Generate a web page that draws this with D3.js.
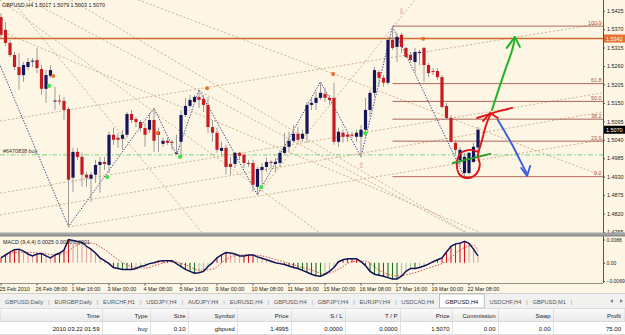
<!DOCTYPE html>
<html>
<head>
<meta charset="utf-8">
<script src="https://d3js.org/d3.v7.min.js"></script>
<style>
body{margin:0;background:#fff;overflow:hidden}
text{font-family:"Liberation Sans",Arial,sans-serif}
</style>
</head>
<body>
<div id="chart"></div>
<script>
var W = 625, H = 335

// ---- data ----
var symbol = 'GBPUSD,H4'
var lastQuote = [1.5017, 1.5079, 1.5003, 1.5070]

// open, high, low, close per H4 bar (bar 0 = 25 Feb 2010 00:00)
var ohlc = [
[1.5406,1.5418,1.5344,1.5353],[1.5368,1.5391,1.5320,1.5329],[1.5329,1.5338,1.5287,1.5293],[1.5293,1.5302,1.5248,1.5257],
[1.5257,1.5299,1.5189,1.5233],[1.5233,1.5272,1.5213,1.5263],[1.5257,1.5284,1.5248,1.5272],[1.5275,1.5284,1.5257,1.5276],
[1.5278,1.5314,1.5239,1.5254],[1.5251,1.5263,1.5174,1.5192],[1.5192,1.5248,1.5150,1.5233],[1.5231,1.5263,1.5225,1.5248],
[1.5156,1.5198,1.5129,1.5157],[1.5157,1.5174,1.5144,1.5156],[1.5156,1.5168,1.5099,1.5129],[1.5132,1.5138,1.4781,1.4921],
[1.4927,1.5016,1.4885,1.5004],[1.5004,1.5016,1.4980,1.4989],[1.4989,1.5001,1.4900,1.4936],[1.4936,1.4944,1.4900,1.4927],
[1.4924,1.4944,1.4855,1.4936],[1.4936,1.4980,1.4912,1.4965],[1.4965,1.4989,1.4882,1.4974],[1.4974,1.4989,1.4950,1.4968],
[1.4965,1.5064,1.4941,1.5055],[1.5055,1.5076,1.5025,1.5040],[1.5046,1.5061,1.5016,1.5040],[1.5043,1.5070,1.5010,1.5055],
[1.5055,1.5123,1.5046,1.5117],[1.5117,1.5129,1.5090,1.5099],[1.5102,1.5108,1.5078,1.5093],[1.5093,1.5099,1.5064,1.5075],
[1.5075,1.5090,1.5019,1.5055],[1.5070,1.5120,1.5061,1.5099],[1.5099,1.5135,1.5004,1.5037],[1.5064,1.5076,1.5004,1.5055],
[1.5028,1.5046,1.5019,1.5037],[1.5037,1.5046,1.5025,1.5031],[1.5034,1.5040,1.5010,1.5033],[1.4998,1.5055,1.4995,1.5001],
[1.5034,1.5129,1.4989,1.5114],[1.5114,1.5165,1.5108,1.5141],[1.5141,1.5174,1.5135,1.5159],[1.5153,1.5174,1.5150,1.5168],
[1.5168,1.5189,1.5135,1.5159],[1.5162,1.5174,1.5123,1.5144],[1.5144,1.5168,1.5061,1.5078],[1.5078,1.5099,1.5034,1.5061],
[1.5061,1.5076,1.5001,1.5010],[1.5007,1.5034,1.4995,1.5016],[1.5016,1.5025,1.4936,1.4959],[1.4968,1.4989,1.4936,1.4959],
[1.4968,1.5004,1.4956,1.5001],[1.5001,1.5004,1.4980,1.4992],[1.4995,1.5001,1.4956,1.4971],[1.4971,1.4980,1.4959,1.4970],
[1.4971,1.4980,1.4885,1.4906],[1.4900,1.4959,1.4876,1.4953],[1.4950,1.4971,1.4906,1.4959],[1.4959,1.4986,1.4944,1.4974],
[1.4974,1.4980,1.4956,1.4971],[1.4968,1.4986,1.4944,1.4974],[1.4971,1.5010,1.4959,1.5001],[1.5001,1.5061,1.4995,1.5019],
[1.5019,1.5064,1.5004,1.5037],[1.5037,1.5084,1.5031,1.5058],[1.5058,1.5078,1.5034,1.5040],[1.5043,1.5070,1.5034,1.5058],
[1.5058,1.5153,1.5031,1.5144],[1.5144,1.5165,1.5129,1.5150],[1.5150,1.5183,1.5129,1.5165],[1.5165,1.5213,1.5159,1.5180],
[1.5177,1.5195,1.5153,1.5165],[1.5165,1.5174,1.5144,1.5159],[1.5165,1.5210,1.5025,1.5034],[1.5034,1.5076,1.5019,1.5064],
[1.5061,1.5070,1.5031,1.5049],[1.5055,1.5064,1.5034,1.5049],[1.5055,1.5064,1.5046,1.5054],[1.5049,1.5070,1.5034,1.5061],
[1.5049,1.5084,1.4989,1.5070],[1.5070,1.5165,1.5049,1.5129],[1.5129,1.5189,1.5108,1.5180],[1.5180,1.5257,1.5168,1.5248],
[1.5242,1.5248,1.5198,1.5225],[1.5225,1.5233,1.5198,1.5210],[1.5210,1.5347,1.5204,1.5338],[1.5338,1.5377,1.5308,1.5314],
[1.5317,1.5359,1.5272,1.5347],[1.5353,1.5359,1.5299,1.5317],[1.5314,1.5317,1.5284,1.5287],[1.5293,1.5302,1.5272,1.5278],
[1.5272,1.5314,1.5239,1.5302],[1.5299,1.5308,1.5263,1.5302],[1.5314,1.5317,1.5213,1.5263],[1.5263,1.5269,1.5227,1.5239],
[1.5245,1.5254,1.5233,1.5242],[1.5245,1.5254,1.5219,1.5227],[1.5227,1.5233,1.5135,1.5138],[1.5141,1.5150,1.5099,1.5105],
[1.5105,1.5114,1.5031,1.5034],[1.5031,1.5040,1.4995,1.5010],[1.4980,1.5019,1.4965,1.5010],[1.4941,1.5001,1.4929,1.4989],
[1.4941,1.5004,1.4936,1.5001],[1.4974,1.5031,1.4971,1.5019],[1.5017,1.5079,1.5003,1.5070]
]

var priceTicks = [1.5425,1.5370,1.5315,1.5260,1.5205,1.5150,1.5095,1.5040,1.4985,1.4930,1.4875,1.4820,1.4765]
var timeLabelBars = [0,8,16,24,32,40,48,56,64,72,80,88,96,104]
var timeLabels = ['25 Feb 2010','26 Feb 08:00','1 Mar 16:00','3 Mar 00:00','4 Mar 08:00','5 Mar 16:00','9 Mar 00:00',
  '10 Mar 08:00','11 Mar 16:00','15 Mar 00:00','16 Mar 08:00','17 Mar 16:00','19 Mar 00:00','22 Mar 08:00']

var macdMain = [
0.00186,0.00296,0.00405,0.00496,0.00515,0.00442,0.00332,0.00259,0.00332,0.00350,
0.00259,0.00186,0.00296,0.00369,0.00478,0.00880,0.00843,0.00807,0.00770,0.00624,
0.00515,0.00369,0.00186,0.00077,-0.00033,-0.00179,-0.00215,-0.00252,-0.00252,-0.00252,
-0.00215,-0.00142,-0.00106,-0.00033,0.00004,0.00058,0.00077,0.00077,0.00077,-0.00033,
-0.00142,-0.00252,-0.00325,-0.00398,-0.00380,-0.00325,-0.00142,0.00004,0.00186,0.00296,
0.00387,0.00369,0.00332,0.00259,0.00259,0.00296,0.00296,0.00223,0.00168,0.00113,
0.00058,0.00004,-0.00033,-0.00069,-0.00124,-0.00179,-0.00215,-0.00288,-0.00361,-0.00434,
-0.00489,-0.00507,-0.00434,-0.00325,-0.00179,0.00040,0.00113,0.00150,0.00150,0.00150,
0.00040,-0.00106,-0.00325,-0.00434,-0.00471,-0.00507,-0.00562,-0.00617,-0.00617,-0.00507,
-0.00325,-0.00215,-0.00215,-0.00179,-0.00124,-0.00051,0.00040,0.00113,0.00186,0.00405,
0.00624,0.00715,0.00734,0.00807,0.00734,0.00515,0.00259]
var macdSignal = [[0,0.0020],[4,0.0040],[8,0.0038],[12,0.0030],[15,0.0045],[17,0.0068],[20,0.0075],[23,0.0050],
  [26,0.0012],[29,-0.0015],[32,-0.0020],[35,-0.0006],[38,0.0005],[41,-0.0008],[44,-0.0028],[47,-0.0024],[50,0.0012],
  [53,0.0030],[57,0.0028],[61,0.0012],[65,-0.0008],[69,-0.0028],[72,-0.0042],[75,-0.0025],[78,0.0004],[81,0.0006],
  [84,-0.0028],[88,-0.0050],[91,-0.0042],[95,-0.0020],[99,0.0006],[102,0.0048],[105,0.0066],[106,0.0045]]
var macdTicks = [0.0088, 0, -0.0069]

var fibStartBar = 87, fibLow = 1.4930, fibHigh = 1.5379
var fibLevels = [0, 23.6, 38.2, 50, 61.8, 100]
var hLinePrice = 1.5342
var buyPrice = 1.4995, buyLabel = '#6470838 buy'

// zigzag turning points [bar, price]
var zigzag = [[-4.5,1.5398],[15,1.4781],[34,1.5135],[39,1.4995],[44,1.5189],[57,1.4876],[71,1.5213],[80,1.4989],[87,1.5377],[103,1.4929]]
// trend lines [bar1, price1, bar2, price2]
var trendLines = [
  [13.1,1.5546,133.8,1.4932],[2.7,1.5451,45.1,1.4756],[-0.2,1.5457,70.9,1.4762],[-0.2,1.5502,104.2,1.4756],
  [15.6,1.5457,103.6,1.4762],[-0.2,1.5365,107.8,1.4756],
  [-0.2,1.5096,133.8,1.5388],[-0.2,1.4881,133.8,1.5180],[-0.2,1.4816,133.8,1.5123],[14.9,1.4780,133.8,1.5040],
  [56.9,1.4876,92,1.5457]]
var upFractals = [[11.6,1.5230],[34.7,1.5060],[45.8,1.5194],[73.8,1.5236],[93.8,1.5341]]
var downFractals = [[10.7,1.5201],[23.6,1.4929],[39.8,1.4989],[57.8,1.4899],[80.9,1.5060]]
var arrowDown = [89, 1.5416], arrowUp = [80, 1.4955]

// hand drawn strokes [bar, price]
var greenArrow = [[109.1,1.5129],[110.9,1.5203],[112.2,1.5254],[113.6,1.5308],[114.2,1.5344]]
var greenHead = [[112.4,1.5314],[114.2,1.5347],[115.3,1.5317]]
var redLoop = [[106,1.5004],[104.2,1.5010],[102,1.4998],[101.3,1.4965],[102,1.4935],[103.8,1.4926],[105.6,1.4938],
  [106.4,1.4965],[106,1.4992],[106.9,1.5039],[107.8,1.5084],[108.7,1.5114]]
var redHead = [[107.1,1.5096],[108.7,1.5120],[110.4,1.5105]]
var redBar = [[105.8,1.5105],[108.7,1.5117],[110.9,1.5126],[113.6,1.5135]]
var blueArrow = [[110.4,1.5099],[112,1.5063],[113.6,1.5025],[115.3,1.4980],[116.9,1.4938]]
var blueHead = [[115.6,1.4956],[116.9,1.4932],[117.6,1.4962]]
var greenTick = [[100.4,1.4971],[108.7,1.4998]]

var tabs = ['GBPUSD,Daily','EURGBP,Daily','EURCHF,H1','USDJPY,H4','AUDJPY,H4','EURUSD,H4','GBPUSD,H4',
  'GBPJPY,H4','EURJPY,H4','USDCAD,H4','GBPUSD,H4','USDCHF,H4','GBPUSD,M1']
var activeTab = 10
var colNames = ['Time','Type','Size','Symbol','Price','S / L','T / P','Price','Commission','Swap','Profit']
var rowValues = ['2010.03.22 01:59','buy','0.10','gbpusd','1.4995','0.0000','0.0000','1.5070','0.00','0.00','75.00']

// ---- layout ----
var plotRight = 603
var colSep = [102,150,188,237,291,345,400,452,498,553]
var colRight = [99.5,147.5,185.5,234.5,288.5,342.5,397.5,449.5,495.5,550.5,621]

var x = d3.scaleLinear().domain([0,106]).range([1,478])
var y = d3.scaleLinear().domain([1.4765,1.5425]).range([232,10.7])
var ym = d3.scaleLinear().domain([-0.0069,0.0088]).range([281,239.5])

var svg = d3.select('#chart').append('svg').attr('width',W).attr('height',H)
svg.append('rect').attr('width',W).attr('height',H).attr('fill','#fff')
svg.append('rect').attr('width',W).attr('height',293).attr('fill','#fdf6e5')

var defs = svg.append('defs')
defs.append('clipPath').attr('id','cm').append('rect').attr('width',plotRight).attr('height',232)
defs.append('clipPath').attr('id','cd').append('rect').attr('y',237).attr('width',plotRight).attr('height',46)
var hg = defs.append('linearGradient').attr('id','hdr').attr('x1',0).attr('x2',0).attr('y1',0).attr('y2',1)
hg.append('stop').attr('offset',0).attr('stop-color','#fbfbfb')
hg.append('stop').attr('offset',1).attr('stop-color','#e9e9e9')

var g = svg.append('g').attr('clip-path','url(#cm)')

// trend lines
g.selectAll('.tl').data(trendLines).join('line')
  .attr('x1',d=>x(d[0])).attr('y1',d=>y(d[1])).attr('x2',d=>x(d[2])).attr('y2',d=>y(d[3]))
  .attr('stroke','#c79c76').attr('stroke-width',0.8).attr('stroke-dasharray','2,2')

// fibonacci
fibLevels.forEach(function(lv){
  var p = fibLow + (fibHigh-fibLow)*lv/100
  g.append('line').attr('x1',x(fibStartBar)).attr('x2',plotRight).attr('y1',y(p)).attr('y2',y(p))
    .attr('stroke','#a5564c').attr('stroke-width',0.9)
  g.append('text').attr('x',plotRight-1.5).attr('y',y(p)-1.5).attr('text-anchor','end')
    .attr('font-size',5.4).attr('fill','#a5564c').text(d3.format('.1f')(lv))
})

// zigzag
g.append('path').datum(zigzag).attr('fill','none').attr('stroke','#26267a').attr('stroke-width',0.9)
  .attr('stroke-dasharray','1.3,1.5').attr('d',d3.line().x(d=>x(d[0])).y(d=>y(d[1])))

// horizontal line + buy order line
g.append('line').attr('x1',0).attr('x2',plotRight).attr('y1',y(hLinePrice)).attr('y2',y(hLinePrice))
  .attr('stroke','#d2692a').attr('stroke-width',1.4)
g.append('line').attr('x1',0).attr('x2',plotRight).attr('y1',y(buyPrice)).attr('y2',y(buyPrice))
  .attr('stroke','#7fd07f').attr('stroke-width',1).attr('stroke-dasharray','5,2,1.5,2')
g.append('text').attr('x',3).attr('y',y(buyPrice)-2).attr('font-size',5.4).attr('fill','#333').text(buyLabel)

// candles
var bars = g.selectAll('.bar').data(ohlc).join('g')
bars.append('line')
  .attr('x1',(d,i)=>x(i)).attr('x2',(d,i)=>x(i))
  .attr('y1',d=>y(d[1])).attr('y2',d=>y(d[2]))
  .attr('stroke','#9c9c9c').attr('stroke-width',1)
bars.append('rect')
  .attr('x',(d,i)=>x(i)-1.6).attr('width',3.2)
  .attr('y',d=>y(Math.max(d[0],d[3])))
  .attr('height',d=>Math.max(1,Math.abs(y(d[0])-y(d[3]))))
  .attr('fill',d=>d[3]>=d[0]?'#15155c':'#c81a1f')

// fractal dots
g.selectAll('.uf').data(upFractals).join('circle').attr('cx',d=>x(d[0])).attr('cy',d=>y(d[1])).attr('r',2)
  .attr('fill','#e8702a')
g.selectAll('.df').data(downFractals).join('circle').attr('cx',d=>x(d[0])).attr('cy',d=>y(d[1])).attr('r',2.1)
  .attr('fill','#3ee83e')
g.append('text').attr('x',x(arrowDown[0])).attr('y',y(arrowDown[1])).attr('text-anchor','middle')
  .attr('font-family','DejaVu Sans').attr('font-size',8).attr('fill','#e28a8a').text('\u21E9')
g.append('text').attr('x',x(arrowUp[0])).attr('y',y(arrowUp[1])).attr('text-anchor','middle')
  .attr('font-family','DejaVu Sans').attr('font-size',8).attr('fill','#e28a8a').text('\u21E7')

// hand drawn annotations (not clipped)
var ann = svg.append('g').attr('fill','none').attr('stroke-linecap','round').attr('stroke-linejoin','round')
var smooth = d3.line().x(d=>x(d[0])).y(d=>y(d[1])).curve(d3.curveCatmullRom)
var straight = d3.line().x(d=>x(d[0])).y(d=>y(d[1]))
ann.append('path').attr('d',smooth(greenArrow)).attr('stroke','#22b222').attr('stroke-width',2)
ann.append('path').attr('d',straight(greenHead)).attr('stroke','#22b222').attr('stroke-width',2)
ann.append('path').attr('d',smooth(redLoop)).attr('stroke','#e01414').attr('stroke-width',1.9)
ann.append('path').attr('d',straight(redHead)).attr('stroke','#e01414').attr('stroke-width',1.9)
ann.append('path').attr('d',smooth(redBar)).attr('stroke','#e01414').attr('stroke-width',1.9)
ann.append('path').attr('d',smooth(blueArrow)).attr('stroke','#3b5fe0').attr('stroke-width',1.9)
ann.append('path').attr('d',straight(blueHead)).attr('stroke','#3b5fe0').attr('stroke-width',1.9)
ann.append('path').attr('d',straight(greenTick)).attr('stroke','#2a9a2a').attr('stroke-width',2)

// header
svg.append('text').attr('x',2).attr('y',7).attr('font-size',5.4).attr('fill','#222')
  .text(symbol+'  '+lastQuote.map(d3.format('.4f')).join(' '))

// price axis
var ax = svg.append('g').attr('transform','translate('+plotRight+',0)')
  .call(d3.axisRight(y).tickValues(priceTicks).tickFormat(d3.format('.4f')).tickSize(2).tickPadding(2))
ax.select('.domain').attr('stroke','#555').attr('d','M0.5,0V283')
ax.selectAll('line').attr('stroke','#555')
ax.selectAll('text').attr('font-size',5.4).attr('fill','#222').attr('font-family','Liberation Sans')

function priceBox(p, bg, fg){
  svg.append('rect').attr('x',plotRight+1).attr('y',y(p)-4).attr('width',21).attr('height',8).attr('fill',bg)
  svg.append('text').attr('x',plotRight+3).attr('y',y(p)+2).attr('font-size',5.4).attr('fill',fg).text(d3.format('.4f')(p))
}
priceBox(hLinePrice,'#e2722c','#fff')
priceBox(lastQuote[3],'#000','#fff')

// separator between panes
svg.append('rect').attr('x',0).attr('y',232.5).attr('width',W).attr('height',3.5).attr('fill','#a3a3a3')
svg.append('line').attr('x1',0).attr('x2',W).attr('y1',236).attr('y2',236).attr('stroke','#6b6b6b').attr('stroke-width',0.8)

// MACD pane
var gm = svg.append('g').attr('clip-path','url(#cd)')
gm.selectAll('.hb').data(macdMain).join('line')
  .attr('x1',(d,i)=>x(i)).attr('x2',(d,i)=>x(i))
  .attr('y1',ym(0)).attr('y2',d=>ym(d))
  .attr('stroke-width',1.1)
  .attr('stroke',function(d,i){
    var prev = i>0 ? macdMain[i-1] : d
    if (d>=0) return d>=prev ? '#d8151b' : '#dba4a0'
    return d<=prev ? '#1e6e1e' : '#a9c8a2'
  })
gm.append('path').datum(macdSignal).attr('fill','none').attr('stroke','#d23a3a').attr('stroke-width',0.9)
  .attr('stroke-dasharray','1.5,1.5').attr('d',d3.line().x(d=>x(d[0])).y(d=>ym(d[1])).curve(d3.curveMonotoneX))
gm.append('path').datum(macdMain).attr('fill','none').attr('stroke','#121258').attr('stroke-width',1.5)
  .attr('d',d3.line().x((d,i)=>x(i)).y(d=>ym(d)))
svg.append('text').attr('x',3).attr('y',244).attr('font-size',5.4).attr('fill','#222')
  .text('MACD (9,4,4) 0.0025 0.0026 0.0001')

var axm = svg.append('g').attr('transform','translate('+plotRight+',0)')
  .call(d3.axisRight(ym).tickValues(macdTicks).tickFormat(d=>d===0?'0.00':d3.format('.4f')(d)).tickSize(2).tickPadding(1.5))
axm.select('.domain').remove()
axm.selectAll('line').attr('stroke','#555')
axm.selectAll('text').attr('font-size',5).attr('fill','#222').attr('font-family','Liberation Sans')
svg.append('line').attr('x1',0).attr('x2',plotRight).attr('y1',283.5).attr('y2',283.5).attr('stroke','#777').attr('stroke-width',0.8)

// time axis
var ta = svg.append('g')
ta.selectAll('line').data(timeLabelBars).join('line')
  .attr('x1',d=>x(d)).attr('x2',d=>x(d)).attr('y1',283.5).attr('y2',285.5).attr('stroke','#555')
ta.selectAll('text').data(timeLabelBars).join('text')
  .attr('x',d=>x(d)-1.5).attr('y',290.5).attr('font-size',5.4).attr('fill','#222')
  .text((d,i)=>timeLabels[i])

// tabs row
svg.append('rect').attr('x',0).attr('y',293).attr('width',W).attr('height',15).attr('fill','#f1f1ef')
svg.append('line').attr('x1',0).attr('x2',W).attr('y1',293.5).attr('y2',293.5).attr('stroke','#bbb').attr('stroke-width',0.6)
var tg = svg.append('g')
var tabText = tg.selectAll('text').data(tabs).join('text').attr('font-size',5.7).attr('fill','#555').attr('y',303.5).text(d=>d)
var tw = []
tabText.each(function(){ tw.push(this.getComputedTextLength()) })
var tabGap = (561 - d3.sum(tw)) / (tabs.length-1)
var tx = [5]
for (var k=1;k<tabs.length;k++) tx.push(tx[k-1]+tw[k-1]+tabGap)
tabs.forEach(function(t,k){
  if (k===activeTab){
    tg.insert('rect','text').attr('x',tx[k]-6).attr('y',294).attr('width',tw[k]+12).attr('height',14)
      .attr('fill','#fff').attr('stroke','#999').attr('stroke-width',0.6)
  } else if (k+1!==activeTab) {
    tg.append('text').attr('x',tx[k]+tw[k]+tabGap/2).attr('y',303.5).attr('text-anchor','middle')
      .attr('font-size',5.7).attr('fill','#999').text('|')
  }
})
tabText.attr('x',(d,k)=>tx[k]).attr('fill',(d,k)=>k===activeTab?'#111':'#555')
tg.append('path').attr('d','M610,301L613,299V303Z M620,299L623,301L620,303Z').attr('fill','#888')

// order table
svg.append('rect').attr('x',0).attr('y',308.5).attr('width',W).attr('height',13).attr('fill','url(#hdr)')
  .attr('stroke','#c8c8c8').attr('stroke-width',0.6)
svg.append('line').attr('x1',0).attr('x2',W).attr('y1',334.5).attr('y2',334.5).attr('stroke','#ddd')
var tb = svg.append('g')
tb.selectAll('.sep').data(colSep).join('line')
  .attr('x1',d=>d+0.5).attr('x2',d=>d+0.5).attr('y1',309).attr('y2',335).attr('stroke','#d4d4d4').attr('stroke-width',0.7)
tb.selectAll('.hd').data(colNames).join('text')
  .attr('x',(d,i)=>colRight[i]).attr('y',317.5).attr('text-anchor','end')
  .attr('font-size',6).attr('fill','#222').text(d=>d)
tb.selectAll('.rv').data(rowValues).join('text')
  .attr('x',(d,i)=>colRight[i]).attr('y',330.5).attr('text-anchor','end')
  .attr('font-size',6).attr('fill','#111').text(d=>d)
</script>
</body>
</html>
